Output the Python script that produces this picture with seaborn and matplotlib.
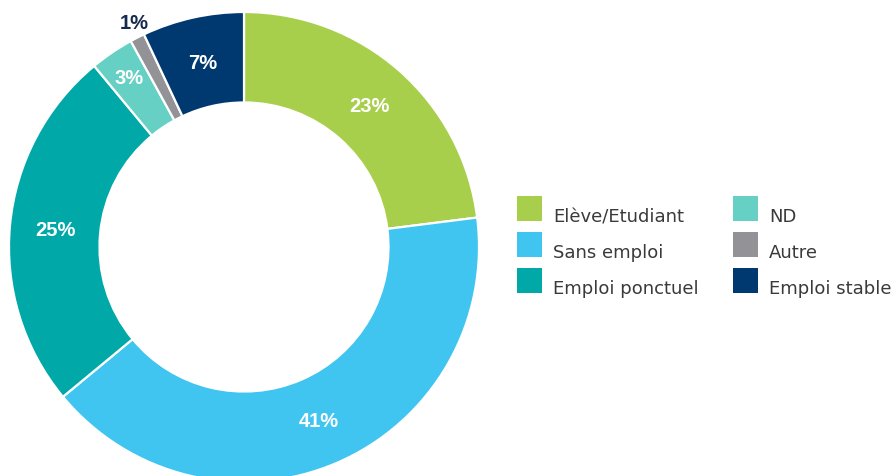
import matplotlib
matplotlib.use("Agg")
import matplotlib.pyplot as plt
from matplotlib.patches import Rectangle
import numpy as np
import seaborn as sns

sns.set_theme(style="white")
plt.rcParams["font.family"] = ["DejaVu Sans"]

# Répartition par situation
categories = ["Elève/Etudiant", "Sans emploi", "Emploi ponctuel", "ND", "Autre", "Emploi stable"]
values = [23, 41, 25, 3, 1, 7]
colors = ["#a8cf4c", "#40c4f0", "#00a9a7", "#66d0c4", "#939297", "#003870"]
palette = sns.color_palette(colors)

W, H = 893, 477
fig = plt.figure(figsize=(W / 100, H / 100), dpi=100)

# donut axes: centre (244, 248) px, radius 235 px
R = 235
cx, cy = 244, 248
ax = fig.add_axes([(cx - R) / W, (H - cy - R) / H, 2 * R / W, 2 * R / H])
wedges, texts, autotexts = ax.pie(
    values, colors=palette, startangle=90, counterclock=False,
    radius=1.0, autopct="%d%%", pctdistance=0.805,
    wedgeprops=dict(width=0.385, edgecolor="white", linewidth=1.6),
    textprops=dict(color="white", fontsize=14.5, fontweight="bold",
                   family=["Liberation Sans", "DejaVu Sans"]),
)
ax.set_xlim(-1, 1)
ax.set_ylim(-1, 1)
ax.set_aspect("equal")
ax.axis("off")

# small slices: labels pushed outward
for i, (w, t) in enumerate(zip(wedges, autotexts)):
    ang = np.deg2rad((w.theta1 + w.theta2) / 2)
    if categories[i] == "ND":
        t.set_position((0.87 * np.cos(ang), 0.87 * np.sin(ang)))
    elif categories[i] == "Autre":
        t.set_position((1.07 * np.cos(ang) + 0.02, 1.07 * np.sin(ang)))
        t.set_color("#16294f")

# legend in two columns
def px_rect(x, y, w, h, color):
    fig.add_artist(Rectangle((x / W, (H - y - h) / H), w / W, h / H,
                             transform=fig.transFigure, color=color, lw=0))

col_x = [517, 733]
row_y = [197, 233, 269]
for i, (lab, c) in enumerate(zip(categories, colors)):
    col, row = divmod(i, 3)
    x, y = col_x[col], row_y[row]
    px_rect(x, y, 25, 25, c)
    fig.text((x + 36) / W, (H - (y + 20)) / H, lab, fontsize=13,
             color="#3a3a3a", va="center", ha="left")

fig.savefig("out.png", dpi=100, facecolor="white")
